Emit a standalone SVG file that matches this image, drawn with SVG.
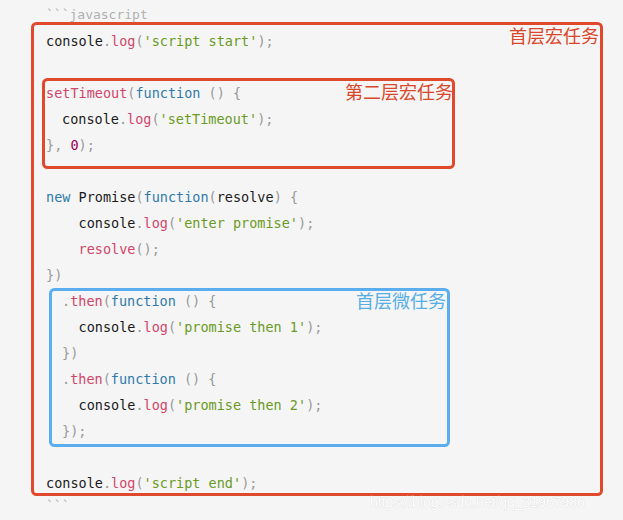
<svg xmlns="http://www.w3.org/2000/svg" width="623" height="520" viewBox="0 0 623 520">
<style>
.code{font-family:"DejaVu Sans Mono","Liberation Mono",monospace;font-size:13.5px;fill:#1a1a1a;white-space:pre}
.p{fill:#999999}
.f{fill:#d1456a}
.k{fill:#2f7aaa}
.s{fill:#6a9a1f}
.n{fill:#990055}
.fence{font-family:"DejaVu Sans Mono","Liberation Mono",monospace;font-size:13px;fill:#b0b0b0;white-space:pre}
.red{fill:none;stroke:#e0492b;stroke-width:3}
.blue{fill:none;stroke:#5aaef0;stroke-width:3}
.lbl{font-family:"Noto Sans CJK SC","Noto Sans",sans-serif;font-size:18px;text-anchor:end}
.lr{fill:#d9472b}
.lb{fill:#55aee6}
.wm{font-family:"Liberation Sans",Arial,sans-serif;font-size:14px;fill:#ffffff;stroke:#d8d8d8;stroke-width:0.6;paint-order:stroke;opacity:0.9}
</style>
<rect x="0" y="0" width="623" height="520" fill="#f5f5f5"/>
<g id="code">
<text class="fence" x="46" y="19">```javascript</text>
<text class="code" x="46" y="46">console<tspan class="p">.</tspan><tspan class="f">log</tspan><tspan class="p">(</tspan><tspan class="s">'script start'</tspan><tspan class="p">);</tspan></text>
<text class="code" x="46" y="98"><tspan class="f">setTimeout</tspan><tspan class="p">(</tspan><tspan class="k">function</tspan> <tspan class="p">() {</tspan></text>
<text class="code" x="62" y="124">console<tspan class="p">.</tspan><tspan class="f">log</tspan><tspan class="p">(</tspan><tspan class="s">'setTimeout'</tspan><tspan class="p">);</tspan></text>
<text class="code" x="46" y="150"><tspan class="p">}, </tspan><tspan class="n">0</tspan><tspan class="p">);</tspan></text>
<text class="code" x="46" y="202"><tspan class="k">new</tspan> Promise<tspan class="p">(</tspan><tspan class="k">function</tspan><tspan class="p">(</tspan>resolve<tspan class="p">) {</tspan></text>
<text class="code" x="78.5" y="228">console<tspan class="p">.</tspan><tspan class="f">log</tspan><tspan class="p">(</tspan><tspan class="s">'enter promise'</tspan><tspan class="p">);</tspan></text>
<text class="code" x="78.5" y="254"><tspan class="f">resolve</tspan><tspan class="p">();</tspan></text>
<text class="code" x="46" y="280"><tspan class="p">})</tspan></text>
<text class="code" x="62" y="306"><tspan class="p">.</tspan><tspan class="f">then</tspan><tspan class="p">(</tspan><tspan class="k">function</tspan> <tspan class="p">() {</tspan></text>
<text class="code" x="78.5" y="332">console<tspan class="p">.</tspan><tspan class="f">log</tspan><tspan class="p">(</tspan><tspan class="s">'promise then 1'</tspan><tspan class="p">);</tspan></text>
<text class="code" x="62" y="358"><tspan class="p">})</tspan></text>
<text class="code" x="62" y="384"><tspan class="p">.</tspan><tspan class="f">then</tspan><tspan class="p">(</tspan><tspan class="k">function</tspan> <tspan class="p">() {</tspan></text>
<text class="code" x="78.5" y="410">console<tspan class="p">.</tspan><tspan class="f">log</tspan><tspan class="p">(</tspan><tspan class="s">'promise then 2'</tspan><tspan class="p">);</tspan></text>
<text class="code" x="62" y="436"><tspan class="p">});</tspan></text>
<text class="code" x="46" y="488">console<tspan class="p">.</tspan><tspan class="f">log</tspan><tspan class="p">(</tspan><tspan class="s">'script end'</tspan><tspan class="p">);</tspan></text>
<text class="fence" x="46" y="510">```</text>
</g>
<g id="macro-1">
<rect class="red" x="32.5" y="23.5" width="569" height="471" rx="4"/>
<text class="lbl lr" x="599" y="43">首层宏任务</text>
</g>
<g id="macro-2">
<rect class="red" x="43.5" y="79.5" width="410" height="88" rx="4"/>
<text class="lbl lr" x="453" y="99">第二层宏任务</text>
</g>
<g id="micro-1">
<rect class="blue" x="50.5" y="289.5" width="398" height="156" rx="4"/>
<text class="lbl lb" x="446" y="308">首层微任务</text>
</g>
<g id="connectors"/>
<text class="wm" x="370" y="507">https://blog.csdn.net/qq_31967986</text>
</svg>
